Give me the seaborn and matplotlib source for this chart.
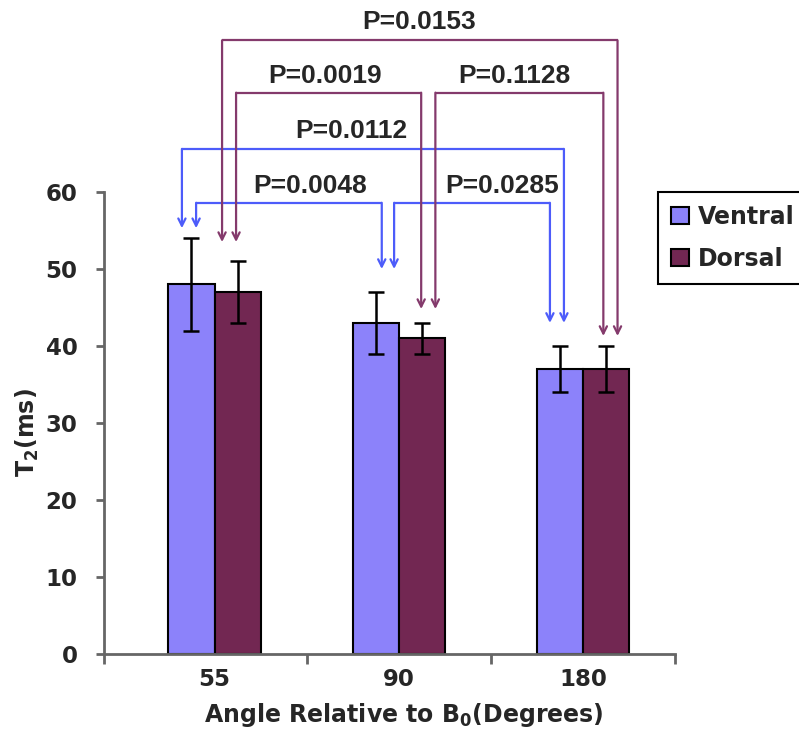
import numpy as np
import pandas as pd
import matplotlib
matplotlib.use("Agg")
import matplotlib.pyplot as plt
import seaborn as sns

# ---------------- data ----------------
angles = ["55", "90", "180"]
series = ["Ventral", "Dorsal"]
ventral_t2 = [48, 43, 37]
dorsal_t2 = [47, 41, 37]
ventral_err = [6, 4, 3]
dorsal_err = [4, 2, 3]

# pairwise comparisons
comp_series = ["Ventral", "Ventral", "Ventral", "Dorsal", "Dorsal", "Dorsal"]
comp_a = ["55", "90", "55", "55", "90", "55"]
comp_b = ["90", "180", "180", "90", "180", "180"]
comp_p = ["P=0.0048", "P=0.0285", "P=0.0112", "P=0.0019", "P=0.1128", "P=0.0153"]

# ---------------- layout (annotation placement) ----------------
bracket_level = [58.6, 58.6, 65.6, 72.9, 72.9, 79.7]
label_x = [0.52, 1.56, 0.74, 0.60, 1.63, 1.11]
label_y = [60.8, 60.8, 67.9, 75.1, 75.1, 82.1]
arrow_off_a = [0.025, 0.10, -0.052, -0.008, 0.074, -0.084]
arrow_off_b = [0.033, -0.054, 0.022, -0.003, -0.014, 0.063]
tip_ventral = [55.3, 50.0, 43.0]
tip_dorsal = [53.5, 44.8, 41.3]

colors = {"Ventral": "#8C82FA", "Dorsal": "#722752"}
arrow_colors = {"Ventral": "#4D5CFA", "Dorsal": "#843A6C"}

AXFONT = ["DejaVu Sans"]
PFONT = ["Liberation Sans", "DejaVu Sans"]

# ---------------- style ----------------
sns.set_style("white")
plt.rcParams["font.family"] = ["DejaVu Sans"]
plt.rcParams["font.weight"] = "bold"
plt.rcParams["mathtext.fontset"] = "dejavusans"
plt.rcParams["mathtext.default"] = "bf"

df = pd.DataFrame({
    "angle": angles * 2,
    "series": ["Ventral"] * 3 + ["Dorsal"] * 3,
    "t2": ventral_t2 + dorsal_t2,
    "err": ventral_err + dorsal_err,
})

fig = plt.figure(figsize=(7.99, 7.33), dpi=100)
ax = fig.add_axes([104 / 799, 1 - 654 / 733, (675 - 104) / 799, (654 - 192) / 733])

sns.barplot(data=df, x="angle", y="t2", hue="series", order=angles,
            hue_order=series, palette=colors, width=0.5, gap=0,
            errorbar=None, edgecolor="black", linewidth=1.5, ax=ax,
            saturation=1)

# bar centres from the drawn bars
centers = {}
for s, cont in zip(series, ax.containers):
    centers[s] = [r.get_x() + r.get_width() / 2 for r in cont]

# error bars
for s, errs, vals in [("Ventral", ventral_err, ventral_t2), ("Dorsal", dorsal_err, dorsal_t2)]:
    ax.errorbar(centers[s], vals, yerr=errs, fmt="none", ecolor="black",
                elinewidth=1.8, capsize=5.5, capthick=1.8, zorder=5)

ax.set_ylim(0, 60)
ax.set_xlim(-0.6, 2.5)
ax.set_yticks(range(0, 61, 10))

# spines
for side in ["top", "right"]:
    ax.spines[side].set_visible(False)
for side in ["left", "bottom"]:
    ax.spines[side].set_color("#666666")
    ax.spines[side].set_linewidth(2)

ax.tick_params(axis="y", which="major", direction="out", length=6, width=2,
               color="#666666", pad=13, labelsize=16.5, left=True)
ax.tick_params(axis="x", which="major", length=0, pad=10, labelsize=16.5)
ax.set_xticks([-0.6, 0.5, 1.5, 2.5], minor=True)
ax.tick_params(axis="x", which="minor", direction="out", length=7, width=2,
               color="#666666", bottom=True)
for lab in ax.get_xticklabels() + ax.get_yticklabels():
    lab.set_fontweight("bold")
    lab.set_fontfamily(AXFONT)

ax.set_xlabel("Angle Relative to B$_0$(Degrees)", fontsize=17, fontweight="bold",
              family=AXFONT)
ax.set_ylabel("T$_2$(ms)", fontsize=17, fontweight="bold", family=AXFONT)
ax.xaxis.label.set_va("center")
ax.xaxis.set_label_coords(0.525, -0.132)
ax.yaxis.label.set_va("center")
ax.yaxis.set_label_coords(-0.135, 0.48)

# comparison brackets with arrows
tips = {"Ventral": tip_ventral, "Dorsal": tip_dorsal}
for i in range(len(comp_p)):
    s = comp_series[i]
    ia, ib = angles.index(comp_a[i]), angles.index(comp_b[i])
    xa = centers[s][ia] + arrow_off_a[i]
    xb = centers[s][ib] + arrow_off_b[i]
    lvl = bracket_level[i]
    c = arrow_colors[s]
    ax.plot([xa, xb], [lvl, lvl], color=c, lw=1.6, clip_on=False, zorder=6,
            solid_capstyle="butt")
    for x, tip in [(xa, tips[s][ia]), (xb, tips[s][ib])]:
        ax.annotate("", xy=(x, tip), xytext=(x, lvl),
                    arrowprops=dict(arrowstyle="->", color=c, lw=1.6,
                                    shrinkA=0, shrinkB=0, mutation_scale=13),
                    annotation_clip=False, zorder=6)
    ax.text(label_x[i], label_y[i], comp_p[i], ha="center", va="center",
            fontsize=19, fontweight="bold", family=PFONT, clip_on=False, zorder=7)

# legend
handles, labels = ax.get_legend_handles_labels()
if ax.legend_ is not None:
    ax.legend_.remove()
leg = fig.legend(handles, labels, loc="upper left",
                 bbox_to_anchor=(658 / 799, 1 - 192 / 733),
                 bbox_transform=fig.transFigure, frameon=True, fancybox=False,
                 edgecolor="black", framealpha=1,
                 prop={"size": 17, "weight": "bold", "family": AXFONT},
                 handlelength=0.75, handleheight=0.75, handletextpad=0.4,
                 borderpad=0.55, labelspacing=0.75, borderaxespad=0)
leg.get_frame().set_linewidth(1.5)

fig.savefig("out.png", dpi=100)
